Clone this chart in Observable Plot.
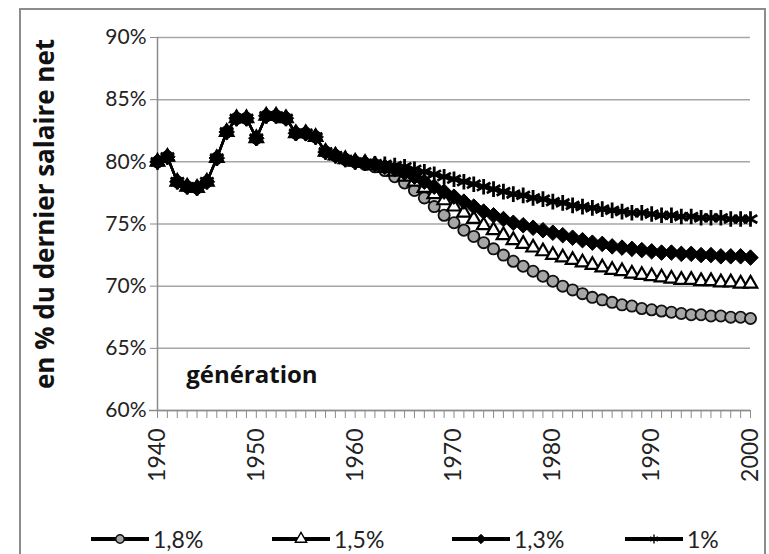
<!DOCTYPE html>
<html><head><meta charset="utf-8">
<script src="https://cdn.jsdelivr.net/npm/d3@7"></script>
<script src="https://cdn.jsdelivr.net/npm/@observablehq/plot@0.6"></script>
<style>
body{margin:0;background:#fff;width:769px;height:554px;overflow:hidden;position:relative;font-family:Lato,sans-serif}
#frame{position:absolute;left:19px;top:8px;width:747px;height:600px;border:2px solid #8c8c8c;box-sizing:border-box}
#chart{position:absolute;left:0;top:0}
#legend{position:absolute;left:0;top:522px;width:769px;height:34px}
.item{position:absolute;top:0;height:34px;display:flex;align-items:center;font-size:23px;color:#222}
</style></head><body>
<div id="frame"></div><div id="chart"></div><div id="legend"></div>
<script>
const years = [1940,1941,1942,1943,1944,1945,1946,1947,1948,1949,1950,1951,1952,1953,1954,1955,1956,1957,1958,1959,
  1960,1961,1962,1963,1964,1965,1966,1967,1968,1969,1970,1971,1972,1973,1974,1975,1976,1977,1978,1979,
  1980,1981,1982,1983,1984,1985,1986,1987,1988,1989,1990,1991,1992,1993,1994,1995,1996,1997,1998,1999,2000];
const seriesNames = ["1,8%", "1,5%", "1,3%", "1%"];
// common values 1940-1960 (all series coincide)
const common = [80.0,80.4,78.4,78.0,77.9,78.4,80.3,82.4,83.5,83.5,81.9,83.7,83.7,83.5,82.3,82.3,82.0,80.8,80.5,80.2,80.0];
// 1961-2000
const rate18 = [79.8,79.6,79.3,78.8,78.3,77.7,77.1,76.4,75.7,75.1,74.5,74.0,73.5,73.0,72.5,72.0,71.6,71.2,70.8,70.4,
  70.0,69.7,69.4,69.1,68.9,68.7,68.5,68.4,68.2,68.1,68.0,67.9,67.8,67.7,67.7,67.6,67.6,67.5,67.5,67.4];
const rate15 = [79.9,79.7,79.5,79.2,78.8,78.4,77.9,77.4,76.9,76.4,75.9,75.4,74.9,74.5,74.1,73.7,73.4,73.1,72.8,72.5,
  72.3,72.1,71.9,71.7,71.5,71.3,71.2,71.0,70.9,70.8,70.7,70.6,70.5,70.5,70.4,70.4,70.3,70.3,70.2,70.2];
const rate13 = [79.9,79.8,79.6,79.4,79.1,78.8,78.4,78.0,77.6,77.2,76.8,76.4,76.0,75.7,75.4,75.1,74.9,74.7,74.5,74.3,
  74.1,73.9,73.7,73.5,73.4,73.2,73.1,73.0,72.9,72.8,72.7,72.7,72.6,72.6,72.5,72.5,72.4,72.4,72.4,72.3];
const rate10 = [79.9,79.85,79.8,79.7,79.6,79.4,79.2,79.0,78.8,78.6,78.4,78.2,78.0,77.8,77.6,77.4,77.3,77.1,77.0,76.8,
  76.7,76.5,76.4,76.3,76.2,76.1,76.0,75.9,75.9,75.8,75.7,75.7,75.6,75.6,75.5,75.5,75.5,75.4,75.4,75.4];
const seriesValues = [common.concat(rate18), common.concat(rate15), common.concat(rate13), common.concat(rate10)];
const yTicks = [60, 65, 70, 75, 80, 85, 90];
const xLabelTicks = [1940, 1950, 1960, 1970, 1980, 1990, 2000];
const yTitle = "en % du dernier salaire net";
const annotation = [{label: "génération", year: 1942.9, value: 62.8}];

const styles = [
  {symbol: "circle", r: 5.6, fill: "#a6a6a6", stroke: "#111", strokeWidth: 1.8},
  {symbol: "triangle", r: 5, fill: "white", stroke: "#000", strokeWidth: 2.2},
  {symbol: "diamond2", r: 7, fill: "#000", stroke: "#000", strokeWidth: 1},
  {symbol: "asterisk", r: 7.4, fill: "none", stroke: "#000", strokeWidth: 2.8}
];

const data = [];
seriesNames.forEach((name, i) => years.forEach((yr, j) => data.push({series: name, year: yr, value: seriesValues[i][j]})));

const grey = "#8c8c8c";
const marks = [
  Plot.gridY({ticks: yTicks, stroke: "#a6a6a6", strokeOpacity: 1, strokeWidth: 1.5}),
  Plot.ruleX([1940], {stroke: grey, strokeWidth: 1.5}),
  Plot.ruleY([60], {stroke: grey, strokeWidth: 1.5, insetLeft: -8}),
  Plot.axisY({ticks: yTicks, tickFormat: d => d + "%", tickSize: 7, tickPadding: 4, fontSize: 21, stroke: grey, color: "#222", label: null}),
  Plot.axisX({ticks: years, tickSize: 8, tickFormat: () => "", stroke: grey, label: null}),
  Plot.axisX({ticks: xLabelTicks, tickSize: 0, tickRotate: -90, tickPadding: 18, fontSize: 23, tickFormat: d => String(d), label: null}),
  Plot.text([yTitle], {frameAnchor: "left", rotate: -90, dx: -112, dy: -10, textAnchor: "middle", fontSize: 26, fontWeight: "bold", fontFamily: "Open Sans", fill: "#111"}),
  Plot.text(annotation, {x: "year", y: "value", text: "label", textAnchor: "start", fontSize: 24, fontWeight: "bold", fontFamily: "Open Sans", fill: "#111"})
];
seriesNames.forEach((name, i) => {
  const sub = data.filter(d => d.series === name);
  marks.push(Plot.line(sub, {x: "year", y: "value", stroke: "#000", strokeWidth: 2.4}));
  marks.push(Plot.dot(sub, {x: "year", y: "value", ...styles[i]}));
});

const chart = Plot.plot({
  width: 769, height: 520,
  marginTop: 37, marginBottom: 110, marginLeft: 157, marginRight: 19,
  x: {domain: [1940, 2000], axis: null, label: null},
  y: {domain: [60, 90], axis: null, label: null},
  style: {fontFamily: "Lato, sans-serif", background: "transparent", color: "#222"},
  marks
});
document.getElementById("chart").appendChild(chart);

// legend
const legend = d3.select("#legend");
const symMap = {circle: d3.symbolCircle, triangle: d3.symbolTriangle, diamond2: d3.symbolDiamond2, asterisk: d3.symbolAsterisk};
const legendLeft = [91, 272, 452, 625];
seriesNames.forEach((name, i) => {
  const item = legend.append("div").attr("class", "item").style("left", legendLeft[i] + "px");
  const svg = item.append("svg").attr("width", 60).attr("height", 24);
  svg.append("line").attr("x1", 0).attr("x2", 58).attr("y1", 12).attr("y2", 12).attr("stroke", "#000").attr("stroke-width", 4);
  const s = styles[i];
  svg.append("path").attr("transform", "translate(29,12)")
    .attr("d", d3.symbol(symMap[s.symbol], Math.PI * 4.2 * 4.2)())
    .attr("fill", s.fill).attr("stroke", s.stroke).attr("stroke-width", Math.min(s.strokeWidth, 1.4));
  item.append("span").text(name).style("margin-left", "2px");
});
</script>
</body></html>
